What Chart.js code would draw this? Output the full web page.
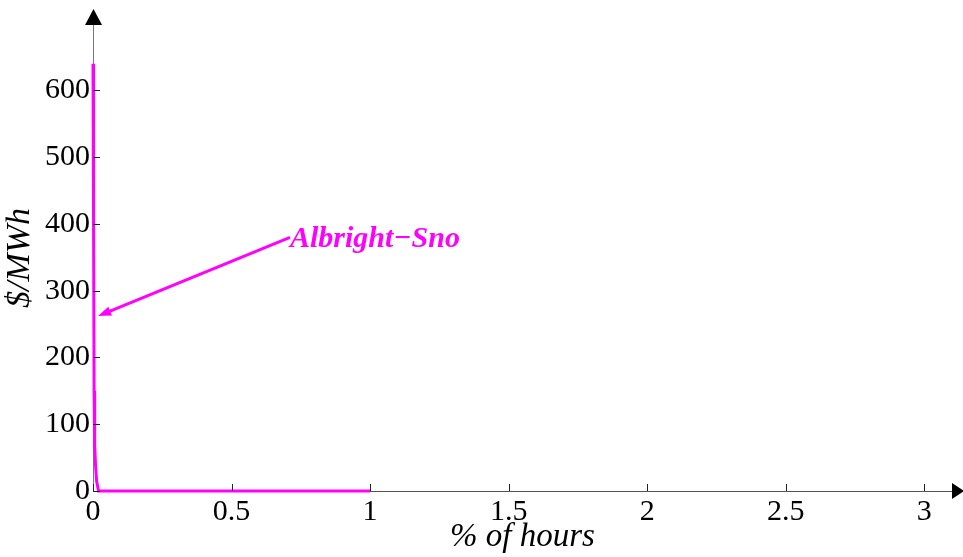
<!DOCTYPE html>
<html>
<head>
<meta charset="utf-8">
<script src="https://cdn.jsdelivr.net/npm/chart.js@4.4.1/dist/chart.umd.min.js"></script>
<style>
  html, body { margin: 0; padding: 0; background: #fff; }
  #wrap { width: 963px; height: 557px; }
</style>
</head>
<body>
<div id="wrap"><canvas id="chart" width="963" height="557"></canvas></div>
<script>
// % of hours vs price, Albright-Sno
const hoursPct = [0, 0.002, 0.004, 0.006, 0.009, 0.013, 0.02, 1]
const priceVals = [640, 400, 150, 70, 40, 15, 0, 0]

const xTickValues = [0, 0.5, 1, 1.5, 2, 2.5, 3]
const xTickLabels = ['0', '0.5', '1', '1.5', '2', '2.5', '3']
const yTickValues = [0, 100, 200, 300, 400, 500, 600]

const seriesName = 'Albright\u2212Sno'
const labelAt = {x: 0.711, y: 380}
const arrowTip = {x: 0.018, y: 262}

const magenta = '#ff00ff'
const serif = '"Liberation Serif", "DejaVu Serif", serif'

const extras = {
  id: 'extras',
  afterDraw(chart) {
    const ctx = chart.ctx
    const xs = chart.scales.x
    const ys = chart.scales.y
    const area = chart.chartArea

    ctx.save()
    // inward ticks
    ctx.strokeStyle = '#222'
    ctx.lineWidth = 1
    ctx.beginPath()
    xTickValues.forEach(v => {
      const px = Math.round(xs.getPixelForValue(v)) + 0.5
      ctx.moveTo(px, area.bottom)
      ctx.lineTo(px, area.bottom - 7)
    })
    yTickValues.forEach(v => {
      const py = Math.round(ys.getPixelForValue(v)) + 0.5
      ctx.moveTo(area.left, py)
      ctx.lineTo(area.left + 7, py)
    })
    ctx.stroke()

    // axis arrow heads
    ctx.fillStyle = '#000'
    ctx.beginPath()
    ctx.moveTo(area.right, area.bottom - 8)
    ctx.lineTo(area.right + 12, area.bottom)
    ctx.lineTo(area.right, area.bottom + 8)
    ctx.closePath()
    ctx.fill()
    ctx.beginPath()
    ctx.moveTo(area.left - 8, area.top)
    ctx.lineTo(area.left + 0.5, area.top - 16)
    ctx.lineTo(area.left + 9, area.top)
    ctx.closePath()
    ctx.fill()

    // annotation
    const lx = xs.getPixelForValue(labelAt.x)
    const ly = ys.getPixelForValue(labelAt.y)
    const tx = xs.getPixelForValue(arrowTip.x)
    const ty = ys.getPixelForValue(arrowTip.y)
    ctx.strokeStyle = magenta
    ctx.fillStyle = magenta
    ctx.lineWidth = 3
    const ang = Math.atan2(ty - ly, tx - lx)
    const hl = 14
    ctx.beginPath()
    ctx.moveTo(lx, ly)
    ctx.lineTo(tx - Math.cos(ang) * hl * 0.7, ty - Math.sin(ang) * hl * 0.7)
    ctx.stroke()
    ctx.beginPath()
    ctx.moveTo(tx, ty)
    ctx.lineTo(tx - hl * Math.cos(ang - 0.35), ty - hl * Math.sin(ang - 0.35))
    ctx.lineTo(tx - hl * Math.cos(ang + 0.35), ty - hl * Math.sin(ang + 0.35))
    ctx.closePath()
    ctx.fill()

    ctx.font = 'italic bold 30px ' + serif
    ctx.textAlign = 'left'
    ctx.textBaseline = 'middle'
    ctx.fillText(seriesName, lx, ly + 2)
    ctx.restore()
  }
}

new Chart(document.getElementById('chart'), {
  type: 'line',
  data: {
    datasets: [{
      label: seriesName,
      data: hoursPct.map((x, i) => ({x: x, y: priceVals[i]})),
      borderColor: magenta,
      borderWidth: 3,
      pointRadius: 0,
      tension: 0,
      fill: false,
      clip: false,
    }]
  },
  options: {
    responsive: false,
    animation: false,
    events: [],
    layout: {padding: {top: 25, right: 11, left: 0, bottom: 0}},
    plugins: {
      legend: {display: false},
      tooltip: {enabled: false},
    },
    scales: {
      x: {
        type: 'linear',
        min: 0,
        max: 3.1,
        afterBuildTicks: s => { s.ticks = xTickValues.map(v => ({value: v})) },
        afterFit: s => { s.height = 66 },
        grid: {display: false, drawTicks: false},
        border: {display: true, color: '#555', width: 1},
        ticks: {
          padding: 3,
          color: '#000',
          maxRotation: 0,
          font: {family: serif, size: 30},
          callback: (v, i) => xTickLabels[i],
        },
        title: {
          display: true,
          text: '% of hours',
          color: '#000',
          padding: {top: 0, bottom: 0},
          font: {family: serif, size: 33, style: 'italic'},
        },
      },
      y: {
        type: 'linear',
        min: 0,
        max: 698,
        afterBuildTicks: s => { s.ticks = yTickValues.map(v => ({value: v})) },
        afterFit: s => { s.width = 93 },
        grid: {display: false, drawTicks: false},
        border: {display: true, color: '#777', width: 1},
        ticks: {
          padding: 3,
          color: '#000',
          font: {family: serif, size: 30},
        },
        title: {
          display: true,
          text: '$/MWh',
          color: '#000',
          padding: {top: 0, bottom: 0},
          font: {family: serif, size: 34, style: 'italic'},
        },
      },
    },
  },
  plugins: [extras],
})
</script>
</body>
</html>
